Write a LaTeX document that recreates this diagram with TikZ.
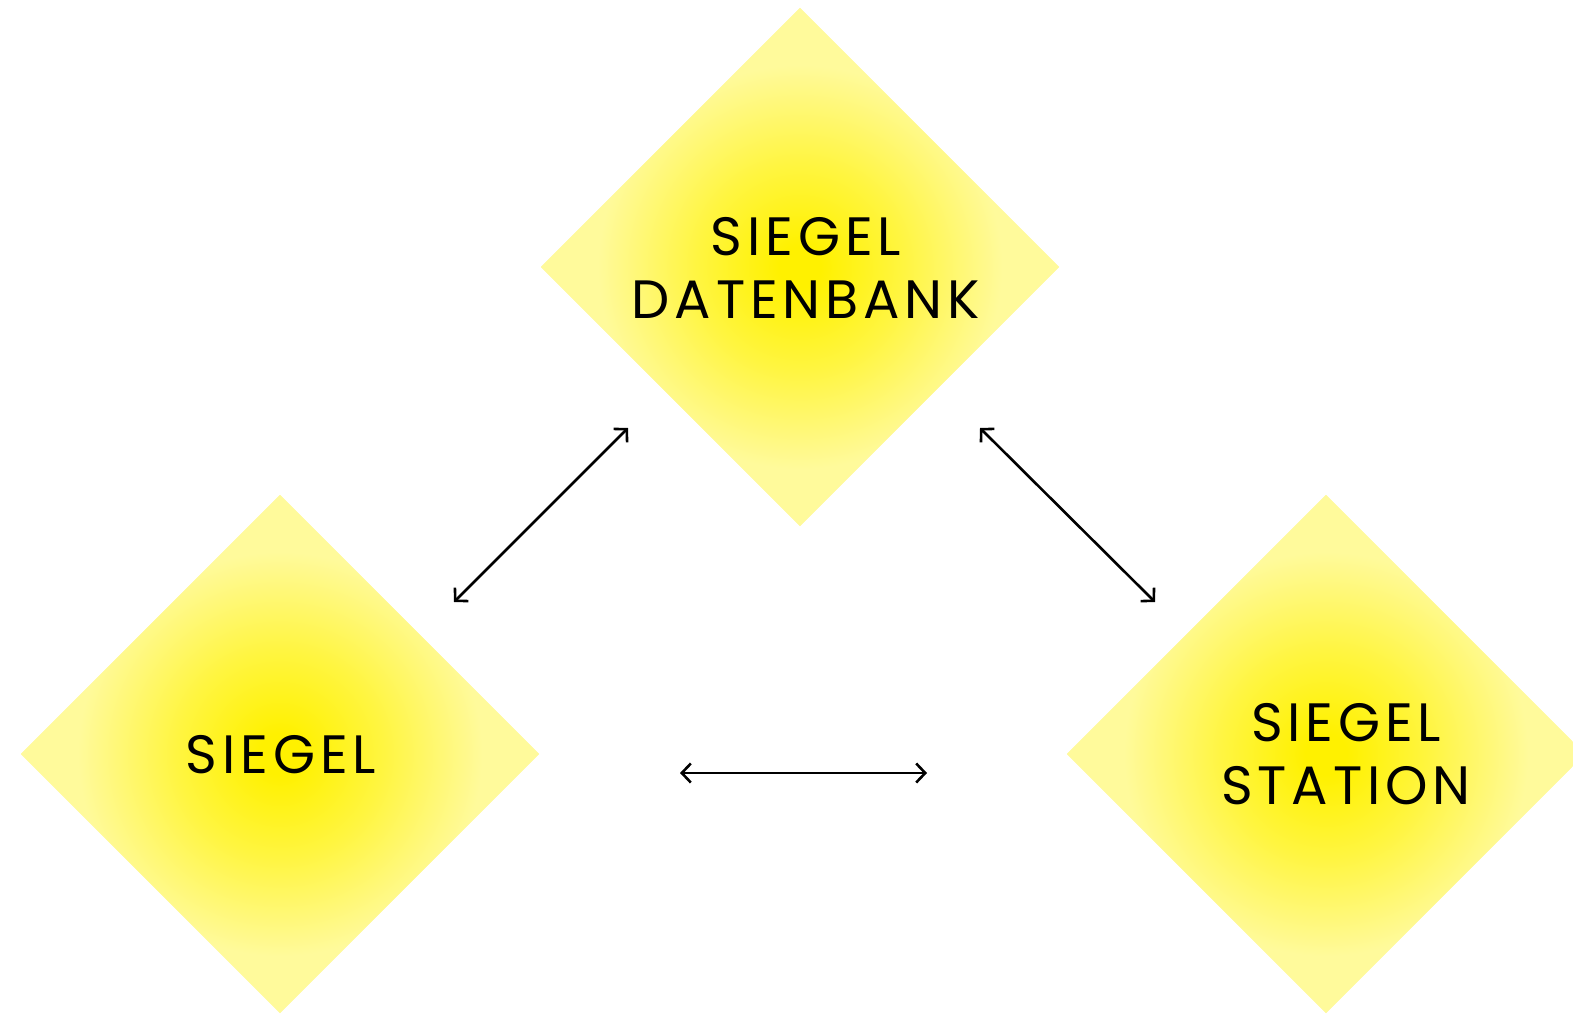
\documentclass[tikz,border=0pt]{standalone}
\usepackage{fontspec}
\setmainfont[LetterSpace=9]{Poppins}
\usetikzlibrary{shapes.geometric,arrows.meta}
\definecolor{glowA}{RGB}{255,241,0}
\definecolor{glowB}{RGB}{255,245,65}
\definecolor{glowC}{RGB}{255,250,155}
\pgfdeclareradialshading{glow}{\pgfpoint{0bp}{0bp}}{color(0bp)=(glowA); color(2bp)=(glowA); color(10bp)=(glowB); color(19.5bp)=(glowC); color(50bp)=(glowC)}
\tikzset{
  sealbox/.style={shape=diamond, draw=none, inner sep=0pt, minimum width=518pt, minimum height=518pt, fill=glowC},
  sealtext/.style={align=center, font=\fontsize{54}{63}\selectfont, text=black, inner sep=0pt},
  link/.style={line width=2.6pt, {Straight Barb[length=9pt,width=19pt,line width=2.6pt]}-{Straight Barb[length=9pt,width=19pt,line width=2.6pt]}}
}
\newcommand\sealglow[1]{%
  \begin{scope}
    \clip (#1.north) -- (#1.east) -- (#1.south) -- (#1.west) -- cycle;
    \shade[shading=glow] (#1.center) circle (259);
  \end{scope}}
\begin{document}
\begin{tikzpicture}[x=1pt,y=-1pt]
\useasboundingbox[fill=white] (0,0) rectangle (1573,1016);
\node[sealbox] (db) at (800,267) {};
\node[sealbox] (sg) at (280,754) {};
\node[sealbox] (st) at (1326,754) {};
\sealglow{db}
\sealglow{sg}
\sealglow{st}
\node[sealtext] (dbt) at (806,268) {SIEGEL\\DATENBANK};
\node[sealtext] (sgt) at (281,755) {SIEGEL};
\node[sealtext] (stt) at (1346,754) {SIEGEL\\STATION};
\coordinate (a1s) at (454,602);
\coordinate (a1e) at (628,428);
\coordinate (a2s) at (980,428);
\coordinate (a2e) at (1155,602);
\coordinate (a3s) at (680,773);
\coordinate (a3e) at (927,773);
\draw[link] (a1s) -- (a1e);
\draw[link] (a2s) -- (a2e);
\draw[link] (a3s) -- (a3e);
\end{tikzpicture}
\end{document}
